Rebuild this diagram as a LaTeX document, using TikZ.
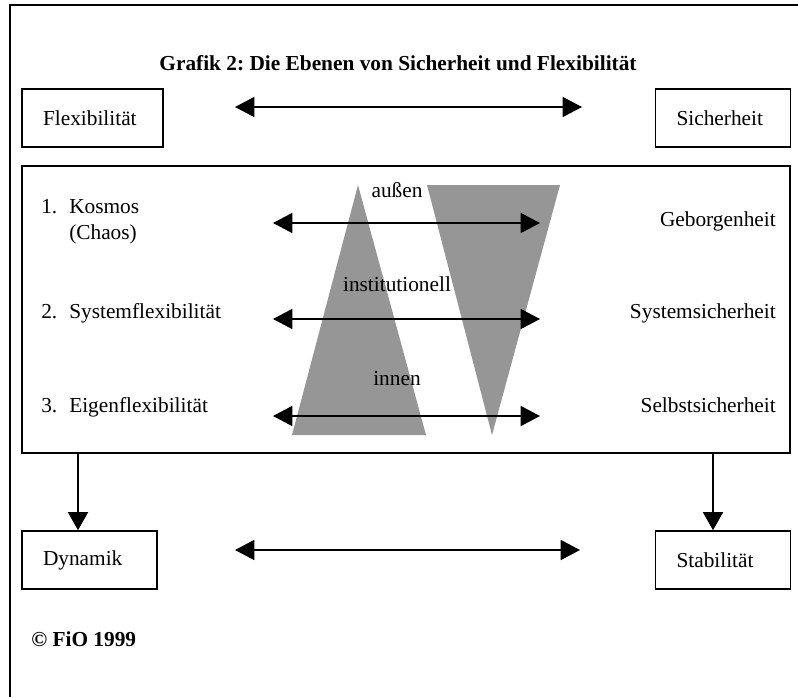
\documentclass[tikz,border=0pt]{standalone}
\usepackage{fontspec}
\setmainfont{Liberation Serif}
\usetikzlibrary{arrows.meta}
\definecolor{wedge}{RGB}{150,150,150}
\newcommand{\bigsize}{\fontsize{16}{19.5}\selectfont\frenchspacing}
\tikzset{
  every node/.style={font=\bigsize, inner sep=0pt},
  box/.style={draw, line width=1.2pt, inner xsep=15.75pt, minimum height=43.5pt, align=left},
  word/.style={anchor=base west},
  dbl/.style={line width=1.1pt, {Triangle[length=14.5pt,width=15pt]}-{Triangle[length=14.5pt,width=15pt]}},
  down/.style={line width=1.1pt, -{Triangle[length=13.5pt,width=15pt]}}
}

\begin{document}
\begin{tikzpicture}[x=0.75pt,y=-0.75pt]
  \useasboundingbox (0,0) rectangle (798,697);
  \draw[line width=1.7pt] (10,697) -- (10,5) -- (798,5);

  \node[font=\bigsize\bfseries] (titel) at (398,63) {Grafik 2: Die Ebenen von Sicherheit und Flexibilität};

  \node[box, text width=74.25pt] (flex) at (92.5,118) {Flexibilität};
  \node[box, text width=69.75pt] (sicher) at (723,118) {Sicherheit};
  \coordinate (tl) at (235,107);
  \coordinate (tr) at (582,107);
  \draw[dbl] (tl) -- (tr);

  \node[draw, line width=1.2pt, minimum width=576pt, minimum height=215.25pt] (ebenen) at (406,309.5) {};
  \fill[wedge] (358,185) -- (426,435) -- (292,435) -- cycle;
  \fill[wedge] (427,185) -- (560,185) -- (492,435) -- cycle;

  \node[word] (n1) at (41,213) {1.};
  \node[word] (kosmos) at (69,213) {Kosmos};
  \node[word] (chaos) at (69,239) {(Chaos)};
  \node[word] (n2) at (41,318) {2.};
  \node[word] (sysflex) at (69,318) {Systemflexibilität};
  \node[word] (n3) at (41,412) {3.};
  \node[word] (eigen) at (69,412) {Eigenflexibilität};
  \node[anchor=base east] (geborgen) at (776,226) {Geborgenheit};
  \node[anchor=base east] (syssich) at (776,318) {Systemsicherheit};
  \node[anchor=base east] (selbst) at (776,412) {Selbstsicherheit};

  \node[anchor=base] (aussen) at (397,197) {außen};
  \node[anchor=base] (instit) at (397,291) {institutionell};
  \node[anchor=base] (innen) at (397,385) {innen};

  \foreach \y [count=\i] in {223,319,416} {
    \coordinate (l\i) at (273,\y);
    \coordinate (r\i) at (540,\y);
    \draw[dbl] (l\i) -- (r\i);
  }

  \node[box, text width=69.75pt] (dyn) at (89.5,560) {Dynamik};
  \node[box, text width=69.75pt] (stab) at (723,560) {Stabilität};
  \coordinate (dl) at (78,453);
  \coordinate (dr) at (713,453);
  \draw[down] (dl) -- (dl |- dyn.north);
  \draw[down] (dr) -- (dr |- stab.north);
  \coordinate (bl) at (235,550);
  \coordinate (br) at (580,550);
  \draw[dbl] (bl) -- (br);

  \node[word, font=\bigsize\bfseries] (fio) at (31,646) {\textcopyright{} FiO 1999};
\end{tikzpicture}
\end{document}
